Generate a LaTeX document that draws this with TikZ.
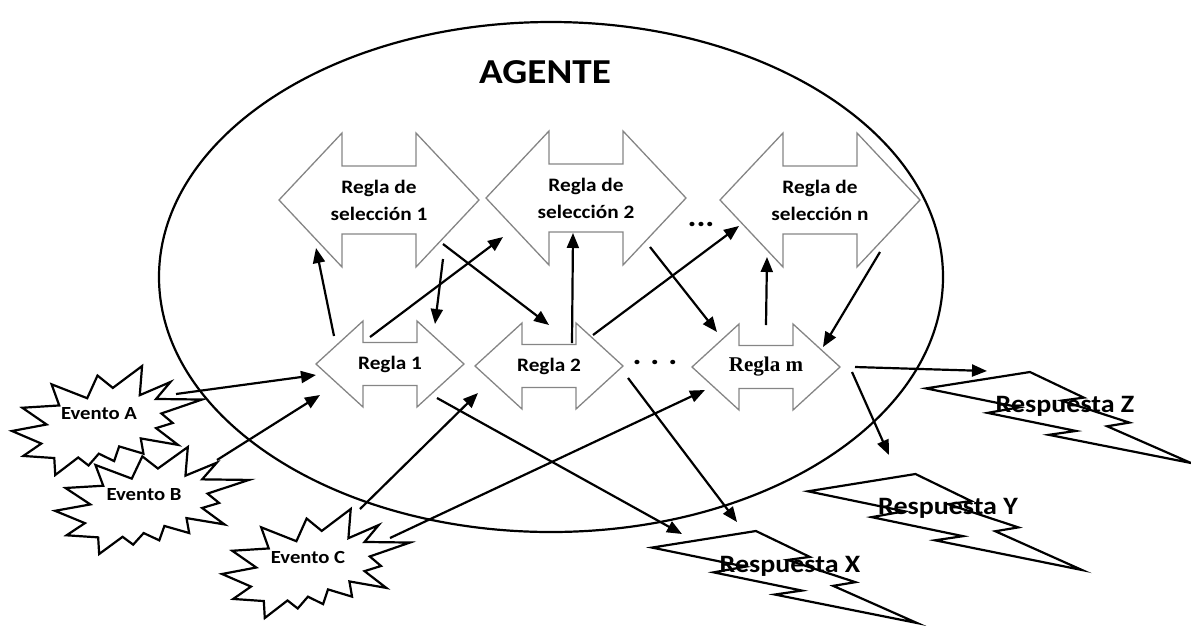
\documentclass[tikz,border=0pt]{standalone}
\usepackage{fontspec}
\setmainfont{Carlito}[FakeStretch=1.12]
\newfontfamily\timesface{Liberation Serif}
\usetikzlibrary{arrows.meta,calc}

\tikzset{
  link/.style={line width=2.2pt, -{Triangle[length=15pt,width=12pt]}},
  rulebox/.style={draw=black!48, line width=1.3pt, line join=miter},
  outline/.style={draw=black, line width=2.2pt, line join=miter},
  lbl/.style={inner sep=0pt, align=center, font=\bfseries\fontsize{19}{27}\selectfont},
  evlbl/.style={inner sep=0pt, font=\bfseries\fontsize{18.5}{22}\selectfont},
  resplbl/.style={inner sep=0pt, font=\bfseries\fontsize{25}{30}\selectfont},
  titlelbl/.style={inner sep=0pt, font=\bfseries\fontsize{35}{40}\selectfont},
  dotslbl/.style={inner sep=0pt, font=\bfseries\fontsize{30}{34}\selectfont}
}

% double-headed block arrow around a centre:
% #1 centre, #2 half length, #3 half shaft length, #4 half head height, #5 half shaft height
\newcommand{\ruleshape}[5]{%
  \draw[rulebox, shift={#1}] (-#2,0) -- (-#3,-#4) -- (-#3,-#5) -- (#3,-#5) -- (#3,-#4)
    -- (#2,0) -- (#3,#4) -- (#3,#5) -- (-#3,#5) -- (-#3,#4) -- cycle;}

% explosion outline inside the box with top-left corner (#1,#2), width #3, height #4
\newcommand{\burst}[4]{%
  \draw[outline, shift={(#1,#2)}, xscale=#3, yscale=#4]
    (0.5306,0.2010) -- (0.6847,0) -- (0.6725,0.2675) -- (0.8337,0.1469) -- (0.7583,0.3024)
    -- (1,0.3076) -- (0.7863,0.4353) -- (0.8458,0.5227) -- (0.7583,0.5699) -- (0.8739,0.7237)
    -- (0.6778,0.6644) -- (0.6918,0.8042) -- (0.5639,0.7377) -- (0.5376,0.8723) -- (0.4570,0.8042)
    -- (0.4028,0.9126) -- (0.3485,0.8391) -- (0.2276,1) -- (0.2225,0.8444) -- (0.0595,0.8252)
    -- (0.1542,0.7116) -- (0,0.5962) -- (0.1822,0.5367) -- (0.0543,0.3829) -- (0.2487,0.3619)
    -- (0.2084,0.1678) -- (0.3958,0.2955) -- (0.4501,0.0874) -- cycle;}

% lightning bolt outline inside the box with top-left corner (#1,#2), width #3, height #4
\newcommand{\bolt}[4]{%
  \draw[outline, shift={(#1,#2)}, xscale=#3, yscale=#4]
    (0.3922,0) -- (0.5954,0.2815) -- (0.5116,0.3147) -- (0.7675,0.5559) -- (0.6837,0.5962)
    -- (1,1) -- (0.4635,0.6905) -- (0.5658,0.6475) -- (0.2325,0.4493) -- (0.3519,0.3881)
    -- (0,0.1801) -- cycle;}

\begin{document}
\begin{tikzpicture}[x=1pt,y=-1pt]
\useasboundingbox (0,0) rectangle (1191,625);

% the agent
\draw[outline] (551,277) ellipse [x radius=392pt, y radius=255pt];
\node[titlelbl] (agente) at (545,72) {AGENTE};

% selection rules
\node[lbl] (s1) at (379,200) {Regla de\\selección 1};
\node[lbl] (s2) at (586,198) {Regla de\\selección 2};
\node[lbl] (sn) at (820,200) {Regla de\\selección n};
\ruleshape{(s1)}{100}{37}{67}{34}
\ruleshape{(s2)}{100}{37}{67}{34}
\ruleshape{(sn)}{100}{37}{67}{34}
\node[dotslbl] (dotsup) at (701,224) {...};

% rules
\node[lbl] (r1) at (390,364) {Regla 1};
\node[lbl] (r2) at (549,366) {Regla 2};
\node[lbl, font=\timesface\bfseries\fontsize{21}{25}\selectfont] (rm) at (766,367) {Regla m};
\ruleshape{(r1)}{74}{27}{43}{21.5}
\ruleshape{(r2)}{74}{27}{43}{21.5}
\ruleshape{(rm)}{74}{27}{43}{21.5}
\node[dotslbl] (dotsdown) at (655,362) {.\hspace{9pt}.\hspace{9pt}.};

% events
\burst{12}{366}{190}{109}
\burst{55}{447}{194}{107}
\burst{222}{509}{188}{109}
\node[evlbl] (ea) at (99,414) {Evento A};
\node[evlbl] (eb) at (144,495) {Evento B};
\node[evlbl] (ec) at (308,557) {Evento C};

% responses
\bolt{652}{531}{265}{92}
\bolt{808}{474}{274}{96}
\bolt{926}{372}{265}{91}
\node[resplbl] (rx) at (790,566) {Respuesta X};
\node[resplbl] (ry) at (948,508) {Respuesta Y};
\node[resplbl] (rz) at (1065,406) {Respuesta Z};

% rules firing selection rules and back
\draw[link] ($(r1)+(-56,-28)$) -- ($(s1)+(-63,48)$);
\draw[link] ($(r1)+(-20,-27)$) -- ($(s2)+(-83,39)$);
\draw[link] ($(s1)+(64,59)$) -- ($(r1)+(45,-40)$);
\draw[link] ($(s1)+(64,44)$) -- ($(r2)+(0,-41)$);
\draw[link] ($(r2)+(23,-23)$) -- ($(s2)+(-13,35)$);
\draw[link] ($(r2)+(44,-31)$) -- ($(sn)+(-81,26)$);
\draw[link] ($(s2)+(64,49)$) -- ($(rm)+(-49,-35)$);
\draw[link] ($(rm)+(0,-42)$) -- ($(sn)+(-53,57)$);
\draw[link] ($(sn)+(60,52)$) -- ($(rm)+(57,-20)$);

% events into rules
\draw[link] ($(ea)+(77,-20)$) -- ($(r1)+(-74,11)$);
\draw[link] ($(eb)+(73,-35)$) -- ($(r1)+(-70,31)$);
\draw[link] ($(ec)+(52,-48)$) -- ($(r2)+(-71,27)$);
\draw[link] ($(ec)+(82,-19)$) -- ($(rm)+(-61,23)$);

% rules out to responses
\draw[link] ($(r1)+(47,34)$) -- ($(rx)+(-108,-32)$);
\draw[link] ($(r2)+(79,12)$) -- ($(rx)+(-53,-44)$);
\draw[link] ($(rm)+(89,0)$) -- ($(rz)+(-78,-35)$);
\draw[link] ($(rm)+(86,5)$) -- ($(ry)+(-59,-53)$);
\end{tikzpicture}
\end{document}
